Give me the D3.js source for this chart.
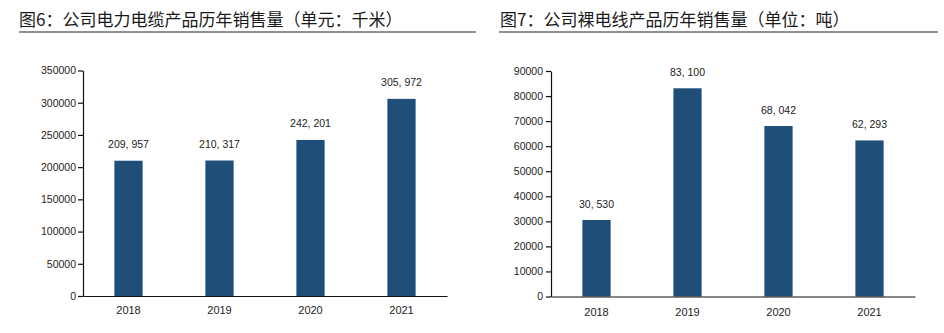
<!DOCTYPE html>
<html><head><meta charset="utf-8">
<script src="https://cdn.jsdelivr.net/npm/d3@7"></script>
<style>
html,body{margin:0;padding:0;background:#fff;}
svg{display:block;}
</style></head>
<body>
<svg id="c" width="944" height="333"></svg>
<script>
// ---- data ----
const years = ["2018", "2019", "2020", "2021"];
const cableValues = [209957, 210317, 242201, 305972];
const wireValues = [30530, 83100, 68042, 62293];
const cableTicks = [0, 50000, 100000, 150000, 200000, 250000, 300000, 350000];
const wireTicks = [0, 10000, 20000, 30000, 40000, 50000, 60000, 70000, 80000, 90000];
const titles = ["图6：公司电力电缆产品历年销售量（单元：千米）", "图7：公司裸电线产品历年销售量（单位：吨）"];

const svg = d3.select("#c");
const barColor = "#1f4e79";
const fmt = v => d3.format(",")(v).replace(/,/g, ", ");

function panel(cfg) {
  const x = d3.scaleBand().domain(years).range([cfg.x0, cfg.x1]).paddingInner(0.69).paddingOuter(0.345);
  const y = d3.scaleLinear().domain([0, cfg.max]).range([cfg.y0, cfg.y1]);

  // title + rule
  svg.append("text").attr("x", cfg.tx).attr("y", 26)
    .attr("font-family", "'Noto Sans CJK SC', sans-serif").attr("font-size", 17)
    .attr("fill", "#1a1a1a").text(cfg.title);
  svg.append("line").attr("x1", cfg.lx0).attr("x2", cfg.lx1).attr("y1", 32).attr("y2", 32)
    .attr("stroke", "#6b6b6b").attr("stroke-width", 1.6);

  // bars
  svg.append("g").selectAll("rect").data(cfg.values).join("rect")
    .attr("x", (d, i) => x(years[i])).attr("width", x.bandwidth())
    .attr("y", d => y(d)).attr("height", d => y(0) - y(d))
    .attr("fill", barColor);

  // value labels
  svg.append("g").selectAll("text").data(cfg.values).join("text")
    .attr("x", (d, i) => x(years[i]) + x.bandwidth() / 2)
    .attr("y", d => y(d) - 12.5)
    .attr("text-anchor", "middle")
    .attr("font-family", "'Liberation Sans', Arial, sans-serif").attr("font-size", 10.5)
    .attr("fill", "#222").text(d => fmt(d));

  // y axis
  const ya = svg.append("g").attr("transform", `translate(${cfg.x0},0)`)
    .call(d3.axisLeft(y).tickValues(cfg.ticks).tickFormat(d3.format("d")).tickSize(5).tickSizeOuter(0).tickPadding(cfg.pad));
  ya.selectAll("text").attr("font-family", "'Liberation Sans', Arial, sans-serif").attr("font-size", 10.5).attr("fill", "#222");
  ya.selectAll("line,path").attr("stroke", "#111").attr("stroke-width", 1.2);

  // x axis
  const xa = svg.append("g").attr("transform", `translate(0,${cfg.y0})`)
    .call(d3.axisBottom(x).tickSize(0).tickSizeOuter(0).tickPadding(cfg.xpad));
  xa.selectAll("text").attr("font-family", "'Liberation Sans', Arial, sans-serif").attr("font-size", 11).attr("fill", "#222");
  xa.select("path").attr("stroke", "#111").attr("stroke-width", 1.2);
}

panel({title: titles[0], values: cableValues, ticks: cableTicks, max: 350000,
  x0: 83, x1: 447, y0: 296, y1: 70.5, tx: 19, lx0: 19, lx1: 476, pad: 2, xpad: 10});
panel({title: titles[1], values: wireValues, ticks: wireTicks, max: 90000,
  x0: 551, x1: 915, y0: 296.5, y1: 71, tx: 500, lx0: 499, lx1: 938, pad: 3, xpad: 12});
</script>
</body></html>
